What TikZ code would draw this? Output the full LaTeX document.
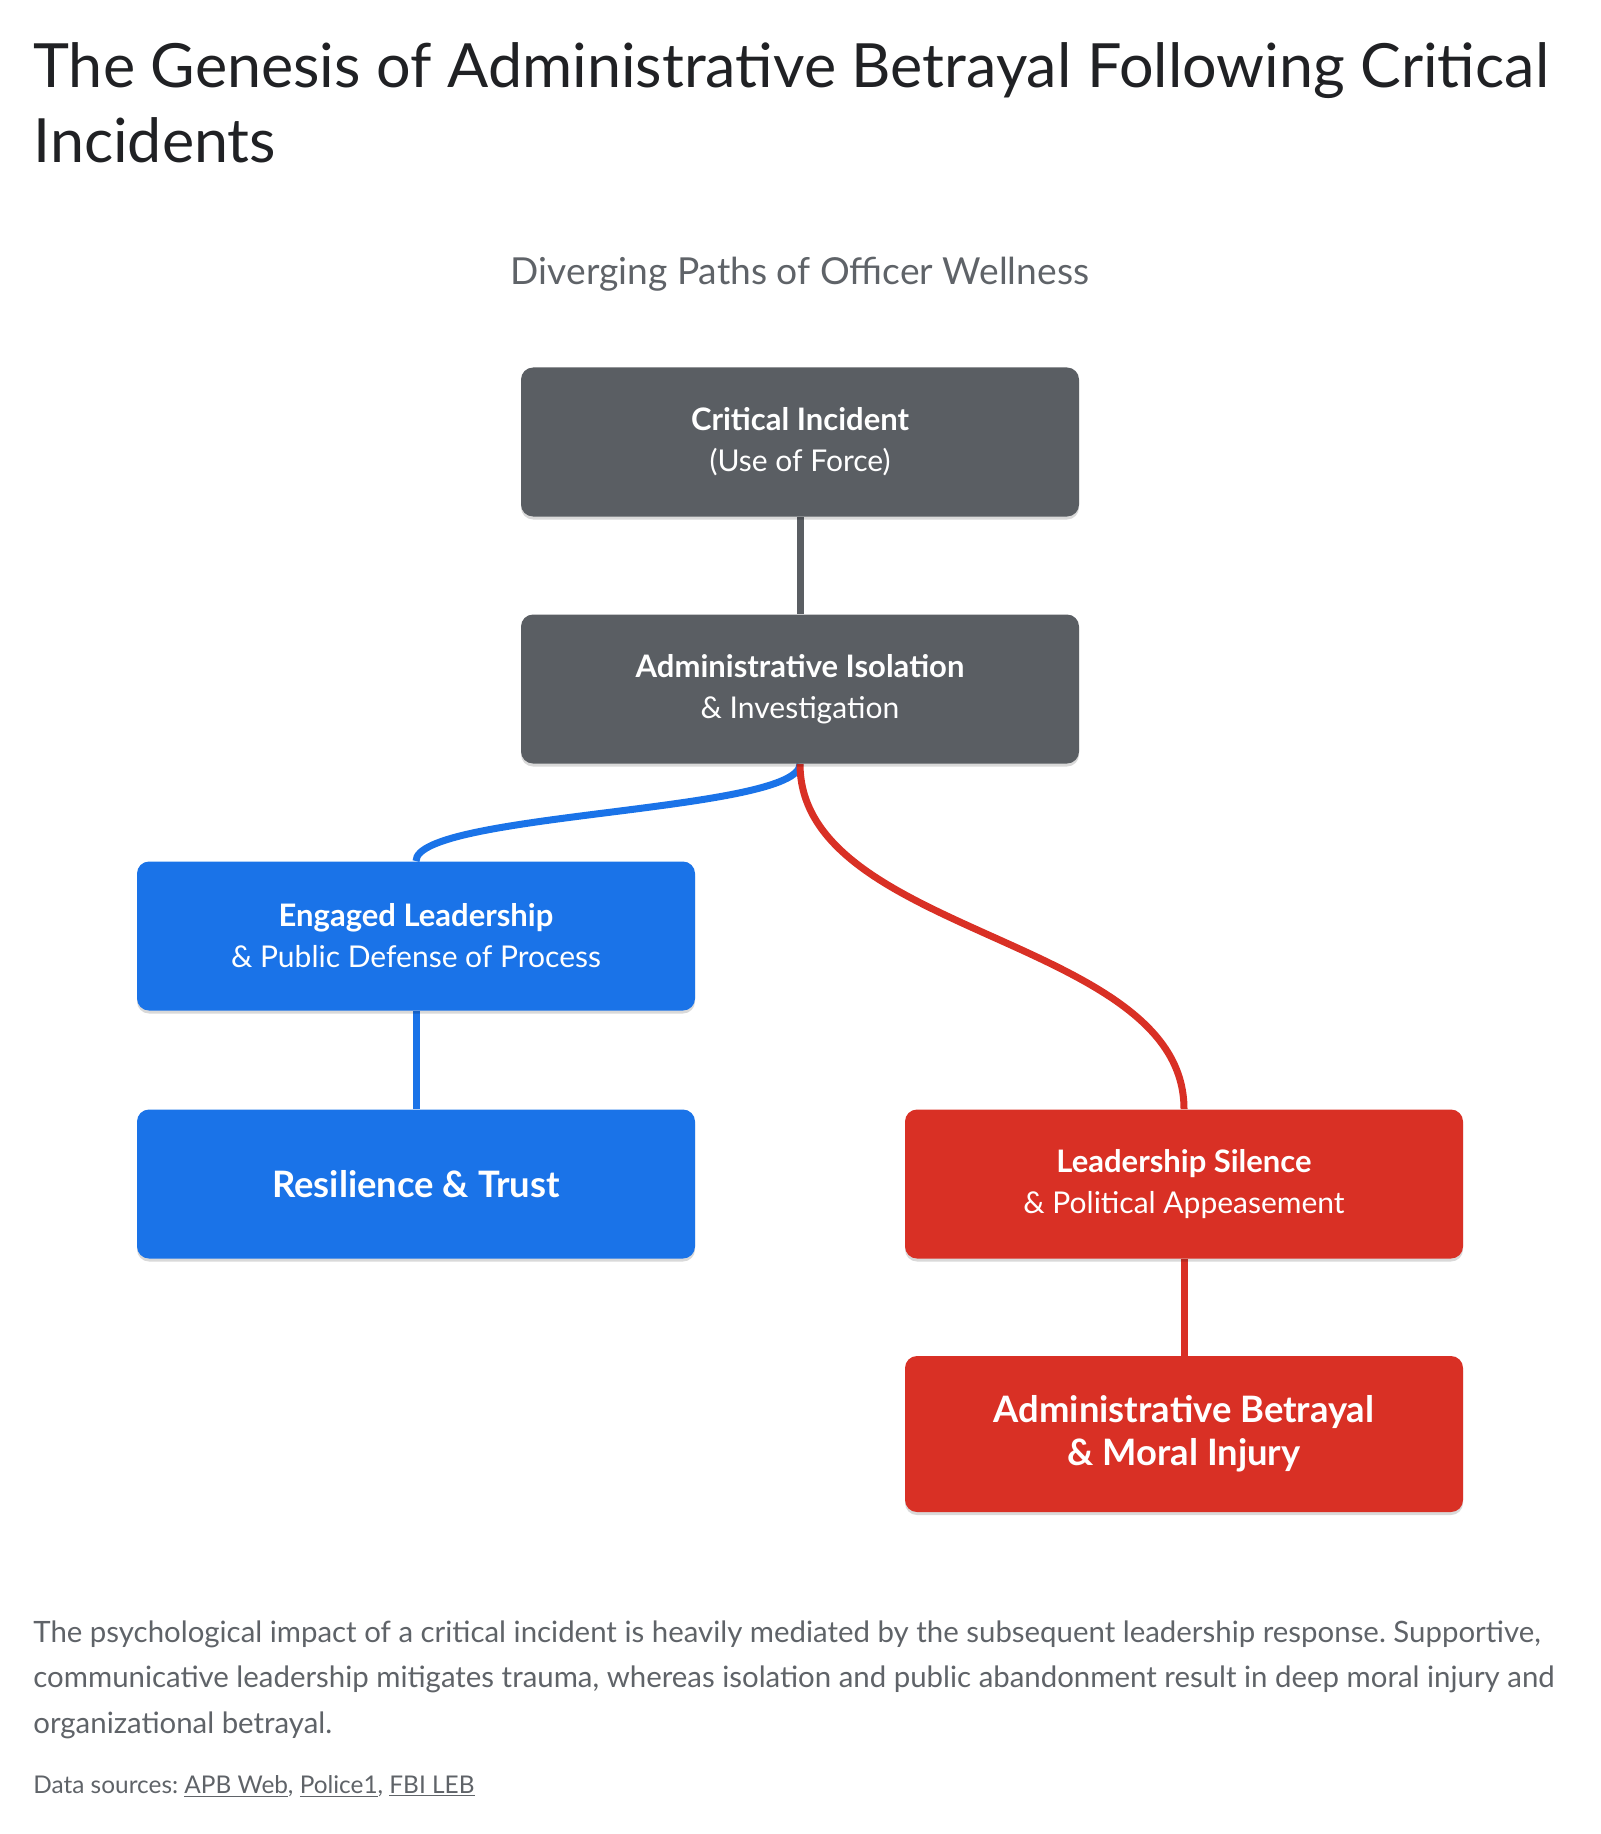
\documentclass[tikz,border=0pt]{standalone}
\usepackage{fontspec}
\setmainfont{Lato}
\usepackage{xcolor}
\usetikzlibrary{arrows.meta,calc,positioning,shadows,backgrounds}
\definecolor{inkgray}{RGB}{32,33,36}
\definecolor{midgray}{RGB}{95,99,104}
\definecolor{boxgray}{RGB}{90,94,99}
\definecolor{pathblue}{RGB}{26,115,232}
\definecolor{pathred}{RGB}{217,48,37}
\newcommand{\headline}[1]{{\fontsize{15.5}{20.5}\selectfont\bfseries #1}}
\frenchspacing

\begin{document}
\begin{tikzpicture}[x=0.5pt,y=-0.5pt,
  stage/.style={rectangle,rounded corners=6pt,minimum width=279pt,minimum height=74.5pt,
    text=white,align=center,font=\fontsize{15}{20.5}\selectfont,
    drop shadow={shadow xshift=0pt,shadow yshift=-1.5pt,opacity=0.15,fill=black}},
  outcome/.style={stage,font=\fontsize{18.2}{21.5}\selectfont\bfseries},
  link/.style={line width=3.5pt},
  plain/.style={anchor=base west,inner sep=0pt,text=midgray}]
  \useasboundingbox (0,0) rectangle (1600,1834);
  \node[anchor=base west,inner sep=0pt,text=inkgray,font=\fontsize{30.5}{36}\selectfont] (title1) at (33,88) {The Genesis of Administrative Betrayal Following Critical};
  \node[anchor=base west,inner sep=0pt,text=inkgray,font=\fontsize{30.5}{36}\selectfont] (title2) at (33,163) {Incidents};
  \node[anchor=base,inner sep=0pt,text=midgray,font=\fontsize{18.6}{22}\selectfont] (subtitle) at (800,285) {Diverging Paths of Officer Wellness};

  \node[stage,fill=boxgray] (incident) at (800,442) {\headline{Critical Incident}\\(Use of Force)};
  \node[stage,fill=boxgray] (isolation) at (800,689) {\headline{Administrative Isolation}\\\& Investigation};
  \node[stage,fill=pathblue] (engaged) at (416,936) {\headline{Engaged Leadership}\\\& Public Defense of Process};
  \node[outcome,fill=pathblue] (trust) at (416,1184) {Resilience \& Trust};
  \node[stage,fill=pathred] (silence) at (1184,1184) {\headline{Leadership Silence}\\\& Political Appeasement};
  \node[outcome,fill=pathred,minimum height=78pt] (betrayal) at (1184,1434) {Administrative Betrayal\\\& Moral Injury};

  \begin{pgfonlayer}{background}
    \draw[link,boxgray] (incident.south) -- (isolation.north);
    \draw[link,pathblue] (isolation.south) .. controls ($(isolation.south)!0.5!(isolation.south |- engaged.north)$) and ($(engaged.north)!0.5!(engaged.north |- isolation.south)$) .. (engaged.north);
    \draw[link,pathred] (isolation.south) .. controls ($(isolation.south)!0.5!(isolation.south |- silence.north)$) and ($(silence.north)!0.5!(silence.north |- isolation.south)$) .. (silence.north);
    \draw[link,pathblue] (engaged.south) -- (trust.north);
    \draw[link,pathred] (silence.south) -- (betrayal.north);
  \end{pgfonlayer}

  \node[plain,font=\fontsize{14.7}{20}\selectfont] (note1) at (33,1642) {The psychological impact of a critical incident is heavily mediated by the subsequent leadership response. Supportive,};
  \node[plain,font=\fontsize{14.7}{20}\selectfont] (note2) at (33,1687) {communicative leadership mitigates trauma, whereas isolation and public abandonment result in deep moral injury and};
  \node[plain,font=\fontsize{14.7}{20}\selectfont] (note3) at (33,1733) {organizational betrayal.};
  \node[plain,font=\fontsize{12.2}{14}\selectfont] (sources) at (33,1793) {Data sources: \underline{APB Web}, \underline{Police1}, \underline{FBI LEB}};
\end{tikzpicture}
\end{document}
